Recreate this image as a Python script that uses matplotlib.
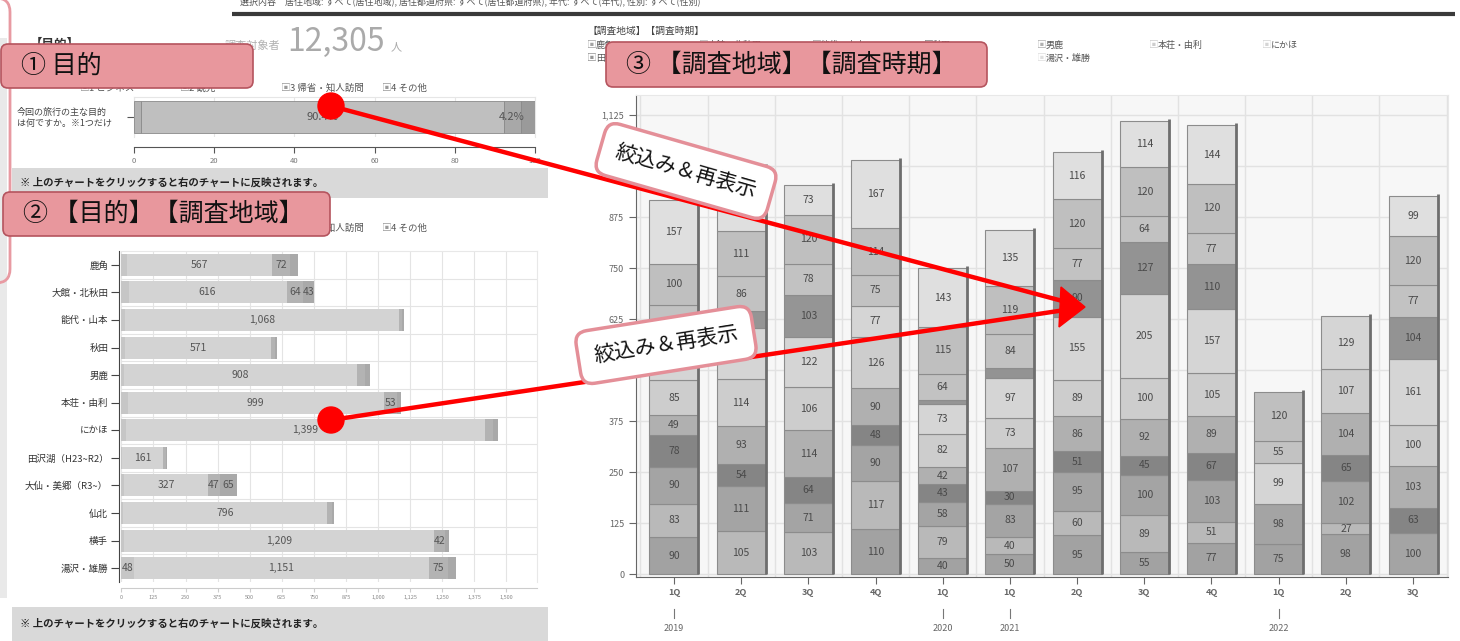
import numpy as np
import matplotlib
matplotlib.use('Agg')
import matplotlib.pyplot as plt
from matplotlib.patches import FancyBboxPatch, Rectangle, Circle, Polygon

plt.rcParams['font.family'] = ['Noto Sans CJK JP', 'DejaVu Sans']

# ---------------- data ----------------
# (1) purpose of travel, percent
purposes = ['1 ビジネス', '2 観光', '3 帰省・知人訪問', '4 その他']
purpose_pct = [1.8, 90.4, 4.2, 3.6]
question = '今回の旅行の主な目的\nは何ですか。※1つだけ'

# (2) purpose by survey area (persons)
areas = ['鹿角', '大館・北秋田', '能代・山本', '秋田', '男鹿', '本荘・由利', 'にかほ',
         '田沢湖（H23~R2）', '大仙・美郷（R3~）', '仙北', '横手', '湯沢・雄勝']
biz = [20, 28, 14, 14, 10, 24, 18, 3, 10, 5, 9, 48]
kanko = [567, 616, 1068, 571, 908, 999, 1399, 161, 327, 796, 1209, 1151]
kisei = [72, 64, 12, 15, 30, 53, 30, 9, 47, 18, 42, 75]
other = [30, 43, 8, 8, 22, 12, 21, 5, 65, 9, 18, 32]

# (3) survey area by survey period (persons), stacked bottom -> top
periods = ['1Q', '2Q', '3Q', '4Q', '1Q', '1Q', '2Q', '3Q', '4Q', '1Q', '2Q', '3Q']
years = ['2019', '', '', '', '2020', '2021', '', '', '', '2022', '', '']
kazuno = [90, 0, 0, 110, 40, 50, 95, 55, 77, 75, 98, 0]
odate = [83, 105, 103, 117, 79, 40, 60, 89, 51, 0, 27, 0]
noshiro = [90, 111, 71, 90, 58, 83, 95, 100, 103, 98, 102, 100]
akita = [78, 54, 64, 48, 43, 30, 51, 45, 67, 0, 65, 63]
oga = [49, 93, 114, 90, 42, 107, 86, 92, 89, 0, 104, 103]
honjo = [85, 114, 106, 126, 82, 73, 89, 100, 105, 0, 107, 100]
nikaho = [90, 125, 122, 77, 73, 97, 155, 205, 157, 99, 129, 161]
tazawako = [16, 42, 103, 0, 10, 0, 0, 0, 0, 0, 0, 0]
daisen = [0, 0, 0, 0, 0, 24, 90, 127, 110, 0, 0, 104]
senboku = [79, 86, 78, 75, 64, 84, 77, 64, 77, 55, 0, 77]
yokote = [100, 111, 120, 114, 115, 119, 120, 120, 120, 120, 0, 120]
yuzawa = [157, 159, 73, 167, 143, 135, 116, 114, 144, 0, 0, 99]

stack = [kazuno, odate, noshiro, akita, oga, honjo, nikaho,
         tazawako, daisen, senboku, yokote, yuzawa]
stack_colors = ['#a2a2a2', '#b9b9b9', '#a4a4a4', '#858585', '#b0b0b0', '#cdcdcd',
                '#d5d5d5', '#959595', '#939393', '#c2c2c2', '#bfbfbf', '#dfdfdf']

header = '選択内容　居住地域: すべて(居住地域), 居住都道府県: すべて(居住都道府県), 年代: すべて(年代), 性別: すべて(性別)'
note = '※ 上のチャートをクリックすると右のチャートに反映されます。'

W, H = 1460, 641
fig = plt.figure(figsize=(W / 100, H / 100), dpi=100)
fig.patch.set_facecolor('white')


def px_axes(l, t, r, b):
    return fig.add_axes([l / W, 1 - b / H, (r - l) / W, (b - t) / H])


# ---------------- chart 1 ----------------
ax1 = px_axes(134, 97, 535, 137)
for s in ['top', 'right', 'left']:
    ax1.spines[s].set_color('#e6e6e6')
ax1.spines['bottom'].set_position(('outward', 7))
ax1.spines['bottom'].set_color('#555')
c1 = ['#b3b3b3', '#bfbfbf', '#a8a8a8', '#9a9a9a']
left = 0
for p, col in zip(purpose_pct, c1):
    ax1.barh(0, p, left=left, height=0.78, color=col, edgecolor='#8a8a8a', lw=0.6, zorder=3)
    if p > 4:
        ax1.text(left + p / 2, 0, f'{p}%', ha='center', va='center', fontsize=8,
                 color='#555', zorder=4)
    left += p
ax1.set_xlim(0, 100)
ax1.set_ylim(-0.5, 0.5)
ax1.set_xticks(range(0, 101, 20))
ax1.tick_params(axis='x', labelsize=5.5, labelcolor='#777', color='#555', length=4)
ax1.set_yticks([0])
ax1.set_yticklabels([''])
ax1.tick_params(axis='y', length=5, color='#555')
ax1.grid(axis='x', color='#e6e6e6', lw=0.8, zorder=0)

# ---------------- chart 2 ----------------
ax2 = px_axes(121.4, 251, 537, 582)
for s in ['top', 'right']:
    ax2.spines[s].set_color('#e8e8e8')
ax2.spines['left'].set_color('#444')
ax2.spines['left'].set_position(('outward', 1.5))
ax2.spines['bottom'].set_color('#cccccc')
ax2.spines['bottom'].set_position(('outward', 4.5))
c2 = ['#c6c6c6', '#d3d3d3', '#b3b3b3', '#a9a9a9']
y = np.arange(len(areas))
left = np.zeros(len(areas))
for vals, col in zip([biz, kanko, kisei, other], c2):
    vals = np.array(vals, float)
    ax2.barh(y, vals, left=left, height=0.8, color=col, edgecolor='none', zorder=3)
    for yi, v, l0 in zip(y, vals, left):
        if v >= 40:
            ax2.text(l0 + v / 2, yi, f'{int(v):,}', ha='center', va='center',
                     fontsize=7.5, color='#555', zorder=4)
    left += vals
ax2.set_xlim(0, 1620)
ax2.set_ylim(len(areas) - 0.5, -0.5)
ax2.set_yticks(y)
ax2.set_yticklabels(areas)
ax2.tick_params(axis='y', length=6, color='#444', pad=2, labelsize=6.8, labelcolor='#333')
ax2.set_xticks(np.arange(0, 1501, 125))
ax2.set_xticklabels([f'{v:,}' for v in range(0, 1501, 125)])
ax2.tick_params(axis='x', length=3, color='#ccc', labelsize=4, labelcolor='#888', pad=2)
ax2.set_yticks(np.arange(0.5, len(areas) - 0.5, 1), minor=True)
ax2.tick_params(axis='y', which='minor', length=0)
ax2.grid(axis='x', color='#e4e4e4', lw=0.8, zorder=0)
ax2.grid(axis='y', which='minor', color='#e4e4e4', lw=0.8, zorder=0)

# ---------------- chart 3 ----------------
ax3 = px_axes(636, 95, 1448, 577)
ax3.set_facecolor('#f7f7f7')
for s in ['top', 'right']:
    ax3.spines[s].set_color('#e8e8e8')
ax3.spines['left'].set_color('#666')
ax3.spines['bottom'].set_color('#666')
x = np.arange(len(periods))
bw = 0.73
bottom = np.zeros(len(periods))
for vals, col in zip(stack, stack_colors):
    vals = np.array(vals, float)
    m = vals > 0
    ax3.bar(x[m], vals[m], width=bw, bottom=bottom[m], color=col,
            edgecolor='#8c8c8c', lw=0.8, zorder=3)
    for xi, v, b in zip(x, vals, bottom):
        if v >= 25:
            ax3.text(xi, b + v / 2, f'{int(v)}', ha='center', va='center',
                     fontsize=7.5, color='#4a4a4a', zorder=4)
    bottom += vals
ax3.vlines(x + bw / 2, 0, bottom + 5, color='#6e6e6e', lw=2, zorder=5)
ax3.set_xlim(-0.565, 11.52)
ax3.set_ylim(-7, 1174)
ax3.set_yticks(np.arange(0, 1126, 125))
ax3.set_yticklabels([f'{v:,}' for v in range(0, 1126, 125)])
ax3.tick_params(axis='y', length=5, color='#666', labelsize=6.5, labelcolor='#666')
ax3.set_xticks(x)
ax3.set_xticklabels(periods, fontweight='bold')
ax3.tick_params(axis='x', length=5, color='#666', pad=3, labelsize=6.5, labelcolor='#666')
ax3.set_xticks(np.arange(-0.5, len(periods), 1), minor=True)
ax3.tick_params(axis='x', which='minor', length=0)
ax3.grid(axis='y', color='#e2e2e2', lw=1, zorder=0)
ax3.grid(axis='x', which='minor', color='#e2e2e2', lw=1, zorder=0)
tr = ax3.get_xaxis_transform()
for i, yr in enumerate(years):
    if yr:
        ax3.plot([i, i], [-0.066, -0.085], transform=tr, color='#777', lw=0.8, clip_on=False)
        ax3.text(i, -0.106, yr, transform=tr, ha='center', va='center',
                 fontsize=6.5, color='#666')

# ---------------- overlay (page texts and annotations) ----------------
ov = fig.add_axes([0, 0, 1, 1])
ov.set_xlim(0, W)
ov.set_ylim(H, 0)
ov.axis('off')
ov.set_zorder(10)
ov.patch.set_alpha(0)

ov.text(240, 1, header, fontsize=6.5, color='#555', va='center')
ov.plot([232, 1455], [14, 14], color='#3a3a3a', lw=3, solid_capstyle='butt')
ov.add_patch(Rectangle((0, 38), 7, 560, fc='#e9e9e9', ec='none'))

ov.text(30, 44, '【目的】', fontsize=9, fontweight='bold', color='#333', va='center')
ov.text(225, 46, '調査対象者', fontsize=8, color='#b0b0b0', va='center')
ov.text(287, 51, '12,305', fontsize=23, color='#aaaaaa', va='baseline')
ov.text(391, 47, '人', fontsize=8, color='#aaaaaa', va='center')

ov.text(17, 118, question, fontsize=6.5, color='#444', va='center', linespacing=1.3)

leg_x = [80, 180, 281, 382]
for ly in [88, 228]:
    for lx, name in zip(leg_x, purposes):
        ov.text(lx, ly, '▣', fontsize=7, color='#999', va='center')
        ov.text(lx + 9, ly, name, fontsize=6.8, color='#555', va='center')

ov.text(588, 31, '【調査地域】【調査時期】', fontsize=7, color='#444', va='center')
leg3_x = [587, 699, 812, 924, 1037, 1149, 1262]
for k, (name, col) in enumerate(zip(areas, stack_colors)):
    lx = leg3_x[k % 7]
    ly = 45 if k < 7 else 58
    ov.text(lx, ly, '▣', fontsize=7, color=col, va='center')
    ov.text(lx + 9, ly, name, fontsize=6.5, color='#555', va='center')

for top, bot in [(168, 198), (607, 641)]:
    ov.add_patch(Rectangle((12, top), 536, bot - top, fc='#d9d9d9', ec='none'))
    ov.text(20, (top + bot) / 2, note, fontsize=7.5, fontweight='bold', color='#222',
            va='center')

# pink bracket on the left
ov.add_patch(FancyBboxPatch((-60, -2), 70, 285, boxstyle='round,pad=0,rounding_size=14',
                            fc='none', ec='#e89aa2', lw=2))

# red arrows
red = '#ff0000'
tip = (1085, 307)
for sx, sy in [(331, 106), (331, 420)]:
    ov.plot([sx, tip[0] - 12], [sy, sy + (tip[1] - sy) * (tip[0] - 12 - sx) / (tip[0] - sx)],
            color=red, lw=3.2, zorder=20, solid_capstyle='round')
    ov.add_patch(Circle((sx, sy), 13, color=red, zorder=21))
ov.add_patch(Polygon([tip, (1061, 287), (1059, 327)], closed=True, color=red, zorder=21))

# white callouts
for cx, cy, rot in [(686, 171, -16), (666, 345, 9)]:
    ov.text(cx, cy, '絞込み＆再表示', fontsize=15, color='#111', rotation=rot,
            rotation_mode='anchor', ha='center', va='center', zorder=25,
            bbox=dict(boxstyle='round,pad=0.75,rounding_size=0.6', fc='white',
                      ec='#e48f98', lw=2.5))

# pink title boxes
for bx, by, bw_, bh, label in [(1, 44, 252, 44, '① 目的'),
                               (3, 192, 327, 44, '② 【目的】【調査地域】'),
                               (606, 42, 381, 45, '③ 【調査地域】【調査時期】')]:
    ov.add_patch(FancyBboxPatch((bx, by), bw_, bh, boxstyle='round,pad=0,rounding_size=7',
                                fc='#e8979d', ec='#b5545e', lw=1.2, zorder=30))
    ov.text(bx + 20, by + bh / 2, label, fontsize=18, color='#111', va='center', zorder=31)

fig.savefig('out.png', dpi=100)
